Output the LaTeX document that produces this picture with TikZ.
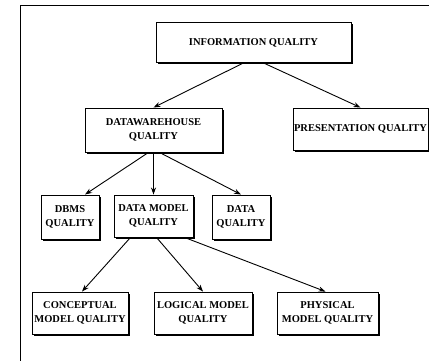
\documentclass[tikz,border=0pt]{standalone}
\usepackage{fontspec}
\setmainfont{Liberation Serif}
\usetikzlibrary{shadows,arrows.meta}

\tikzstyle{calidad}= [rectangle,draw,black,line width=0.9pt,fill=white,inner sep=0pt,align=center,
  font=\fontsize{10.5}{14.5}\selectfont\bfseries,
  drop shadow={shadow xshift=1.8pt,shadow yshift=-1.8pt,fill=black,opacity=1}]
\tikzstyle{flecha}= [black,line width=0.9pt,-{Stealth[length=7pt,width=5pt]}]

\begin{document}
\begin{tikzpicture}[x=1pt,y=-1pt]
		\useasboundingbox (0,0) rectangle (429,361);

		% marco
		\draw[line width=0.9pt] (429,5) -- (20,5) -- (20,361);

		\node (info) at (253.5,42.5) [calidad,minimum width=195pt,minimum height=40pt] {INFORMATION QUALITY};

		\node (dw) at (153.5,130) [calidad,minimum width=137pt,minimum height=44pt] {DATAWAREHOUSE\\QUALITY};
		\node (pres) at (360.5,129) [calidad,minimum width=135pt,minimum height=42pt] {PRESENTATION QUALITY};

		\node (dbms) at (70,217) [calidad,minimum width=58pt,minimum height=44pt] {DBMS\\QUALITY};
		\node (dm) at (153.5,216) [calidad,minimum width=79pt,minimum height=42pt] {DATA MODEL\\QUALITY};
		\node (data) at (241,217) [calidad,minimum width=58pt,minimum height=44pt] {DATA\\QUALITY};

		\node (conc) at (80,313) [calidad,minimum width=96pt,minimum height=42pt] {CONCEPTUAL\\MODEL QUALITY};
		\node (logi) at (203,313) [calidad,minimum width=98pt,minimum height=42pt] {LOGICAL MODEL\\QUALITY};
		\node (phys) at (327.5,313) [calidad,minimum width=101pt,minimum height=42pt] {PHYSICAL\\MODEL QUALITY};

		\path[flecha] ([xshift=-10pt]info.south) edge[] node {} (dw.north);
		\path[flecha] ([xshift=10pt]info.south) edge[] node {} (pres.north);

		\path[flecha] ([xshift=-5pt]dw.south) edge[] node {} ([xshift=15pt]dbms.north);
		\path[flecha] (dw.south) edge[] node {} (dm.north);
		\path[flecha] ([xshift=6pt]dw.south) edge[] node {} (data.north);

		\path[flecha] ([xshift=-23pt]dm.south) edge[] node {} ([xshift=2pt]conc.north);
		\path[flecha] ([xshift=3pt]dm.south) edge[] node {} (logi.north);
		\path[flecha] ([xshift=31pt]dm.south) edge[] node {} ([xshift=-2pt]phys.north);

	\end{tikzpicture}
\end{document}
